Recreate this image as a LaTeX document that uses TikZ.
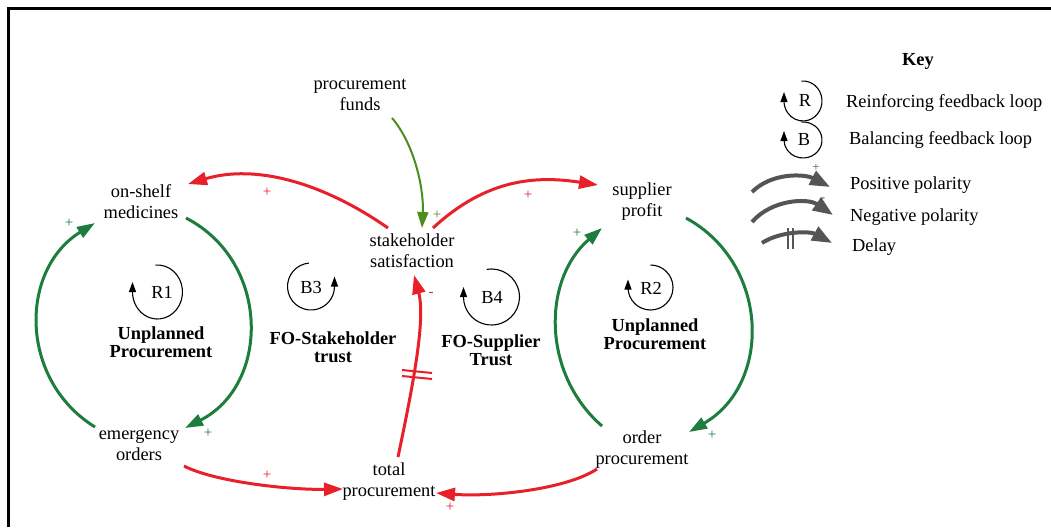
\documentclass[tikz,border=0pt]{standalone}
\usepackage{fontspec}
\setmainfont{Liberation Serif}
\usetikzlibrary{arrows.meta}
\definecolor{cldred}{HTML}{E8202A}
\definecolor{cldgreen}{HTML}{1C7D3C}
\definecolor{cldolive}{HTML}{4E8C1C}
\definecolor{keygray}{HTML}{555555}
\begin{document}
\begin{tikzpicture}[x=1pt,y=-1pt,
  var/.style={align=center, font=\fontsize{18.4}{21}\selectfont, inner sep=0pt},
  looplabel/.style={align=center, font=\bfseries\fontsize{18.4}{18.5}\selectfont, inner sep=0pt},
  loopname/.style={font=\fontsize{18.4}{21}\selectfont, inner sep=0pt},
  keytext/.style={anchor=west, font=\fontsize{18.4}{21}\selectfont, inner sep=0pt},
  redlink/.style={draw=cldred, line width=3pt, -{Triangle[length=19pt,width=13pt]}},
  greenlink/.style={draw=cldgreen, line width=3pt, -{Triangle[length=18pt,width=12pt]}},
  fundlink/.style={draw=cldolive, line width=2pt, -{Triangle[length=16pt,width=11pt]}},
  keyarrow/.style={draw=keygray, line width=4pt, -{Triangle[length=20pt,width=15pt]}},
  loopicon/.style={draw=black, line width=1.1pt, -{Triangle[length=10pt,width=7pt]}},
  pol/.style={font=\fontsize{15}{15}\selectfont, inner sep=0pt},
  keypol/.style={font=\fontsize{13}{13}\selectfont, inner sep=0pt, text=keygray},
]
\useasboundingbox (0,0) rectangle (1051,527);
\fill[white] (0,0) rectangle (1051,527);
% frame
\draw[line width=2.7pt] (8.5,527) -- (8.5,8.5) -- (1051,8.5);

% variables
\node[var] (pf) at (360,95) {procurement\\funds};
\node[var] (om) at (141,202) {on-shelf\\medicines};
\node[var] (ss) at (412,251) {stakeholder\\satisfaction};
\node[var] (sp) at (642,202) {supplier\\profit};
\node[var] (eo) at (139,445) {emergency\\orders};
\node[var] (tp) at (389,482) {total\\procurement};
\node[var] (op) at (642,450) {order\\procurement};

% loop labels
\node[looplabel] (l1) at (161,342) {Unplanned\\Procurement};
\node[looplabel] (l3) at (333,347) {FO-Stakeholder\\trust};
\node[looplabel] (l4) at (491,350) {FO-Supplier\\Trust};
\node[looplabel] (l2) at (655,334) {Unplanned\\Procurement};

% loop icons
\node[loopname] (r1) at (162,292) {R1};
\draw[loopicon] (157.5,292) ++(-95:25 and 27) arc[start angle=-95, end angle=180, x radius=25, y radius=27] -- ++(0,-10);
\node[loopname] (b3) at (311,287) {B3};
\draw[loopicon] (311,286.5) ++(-95:23.5) arc[start angle=-95, end angle=-360, radius=23.5] -- ++(0,-10);
\node[loopname] (b4) at (492,297) {B4};
\draw[loopicon] (491.5,297) ++(-100:28) arc[start angle=-100, end angle=180, radius=28] -- ++(0,-10);
\node[loopname] (r2) at (651,288) {R2};
\draw[loopicon] (650.5,287.5) ++(-90:22.5) arc[start angle=-90, end angle=180, radius=22.5] -- ++(0,-8);

% green links
\draw[greenlink] ([shift={(45,16)}]om.center) .. controls +(85,44) and +(85,-43) .. ([shift={(46,-17)}]eo.center);
\draw[greenlink] ([shift={(-44,-18)}]eo.center) .. controls +(-76,-47) and +(-76,47) .. ([shift={(-46,21)}]om.center);
\draw[greenlink] ([shift={(44,16)}]sp.center) .. controls +(84,46) and +(83,-48) .. ([shift={(47,-18)}]op.center);
\draw[greenlink] ([shift={(-40,-24)}]op.center) .. controls +(-60,-52) and +(-60,52) .. ([shift={(-40,26)}]sp.center);
\draw[fundlink] ([shift={(32,23)}]pf.center) .. controls +(23,27) and +(2,-38) .. ([shift={(10,-23)}]ss.center);

% red links
\draw[redlink] ([shift={(-24,-23)}]ss.center) .. controls +(-66,-46) and +(67,-20) .. ([shift={(47,-18)}]om.center);
\draw[redlink] ([shift={(21,-23)}]ss.center) .. controls +(55,-51) and +(-59,-9) .. ([shift={(-44,-17)}]sp.center);
\draw[redlink] ([shift={(9,-25)}]tp.center) .. controls +(14,-67) and +(12,45) .. ([shift={(2,24)}]ss.center);
\draw[redlink] ([shift={(45,21)}]eo.center) .. controls +(31,16) and +(-53,1) .. ([shift={(-46,7)}]tp.center);
\draw[redlink] ([shift={(-45,19)}]op.center) .. controls +(-32,21) and +(54,4) .. ([shift={(47,11)}]tp.center);
% delay mark
\draw[cldred, line width=2pt] (402,370) -- (432,373);
\draw[cldred, line width=2pt] (402,376) -- (432,379);

% polarity signs
\node[pol, text=cldgreen] (s1) at (208,433) {+};
\node[pol, text=cldgreen] (s2) at (69,223) {+};
\node[pol, text=cldgreen] (s3) at (712,435) {+};
\node[pol, text=cldgreen] (s4) at (577,233) {+};
\node[pol, text=cldolive] (s5) at (437,215) {+};
\node[pol, text=cldred] (s6) at (267,192) {+};
\node[pol, text=cldred] (s7) at (528,195) {+};
\node[pol, text=cldred] (s8) at (431,294) {-};
\node[pol, text=cldred] (s9) at (267,475) {+};
\node[pol, text=cldred] (s10) at (450,507) {+};

% key
\node[font=\bfseries\fontsize{18.4}{21}\selectfont, inner sep=0pt] (key) at (918,61) {Key};
\node[loopname] (kr) at (805,100) {R};
\draw[loopicon] (803,101) ++(-95:19 and 20) arc[start angle=-95, end angle=180, x radius=19, y radius=20] -- ++(0,-9);
\node[keytext] (k1) at (846,103) {Reinforcing feedback loop};
\node[loopname] (kb) at (804,140) {B};
\draw[loopicon] (803,140) ++(-95:19 and 18) arc[start angle=-95, end angle=180, x radius=19, y radius=18] -- ++(0,-9);
\node[keytext] (k2) at (849,140) {Balancing feedback loop};
\draw[keyarrow] (752,192) .. controls (772,172) and (805,174) .. (830,187);
\node[keypol] (kp) at (816,168) {+};
\node[keytext] (k3) at (850,185) {Positive polarity};
\draw[keyarrow] (752,222) .. controls (772,199) and (808,198) .. (833,215);
\node[keypol] (km) at (823,200) {-};
\node[keytext] (k4) at (850,217) {Negative polarity};
\draw[keyarrow] (762,243) .. controls (780,231) and (810,231) .. (832,243);
\draw[keygray, line width=2pt] (788,228) -- (788,249);
\draw[keygray, line width=2pt] (793,228) -- (793,249);
\node[keytext] (k5) at (852,247) {Delay};
\end{tikzpicture}
\end{document}
